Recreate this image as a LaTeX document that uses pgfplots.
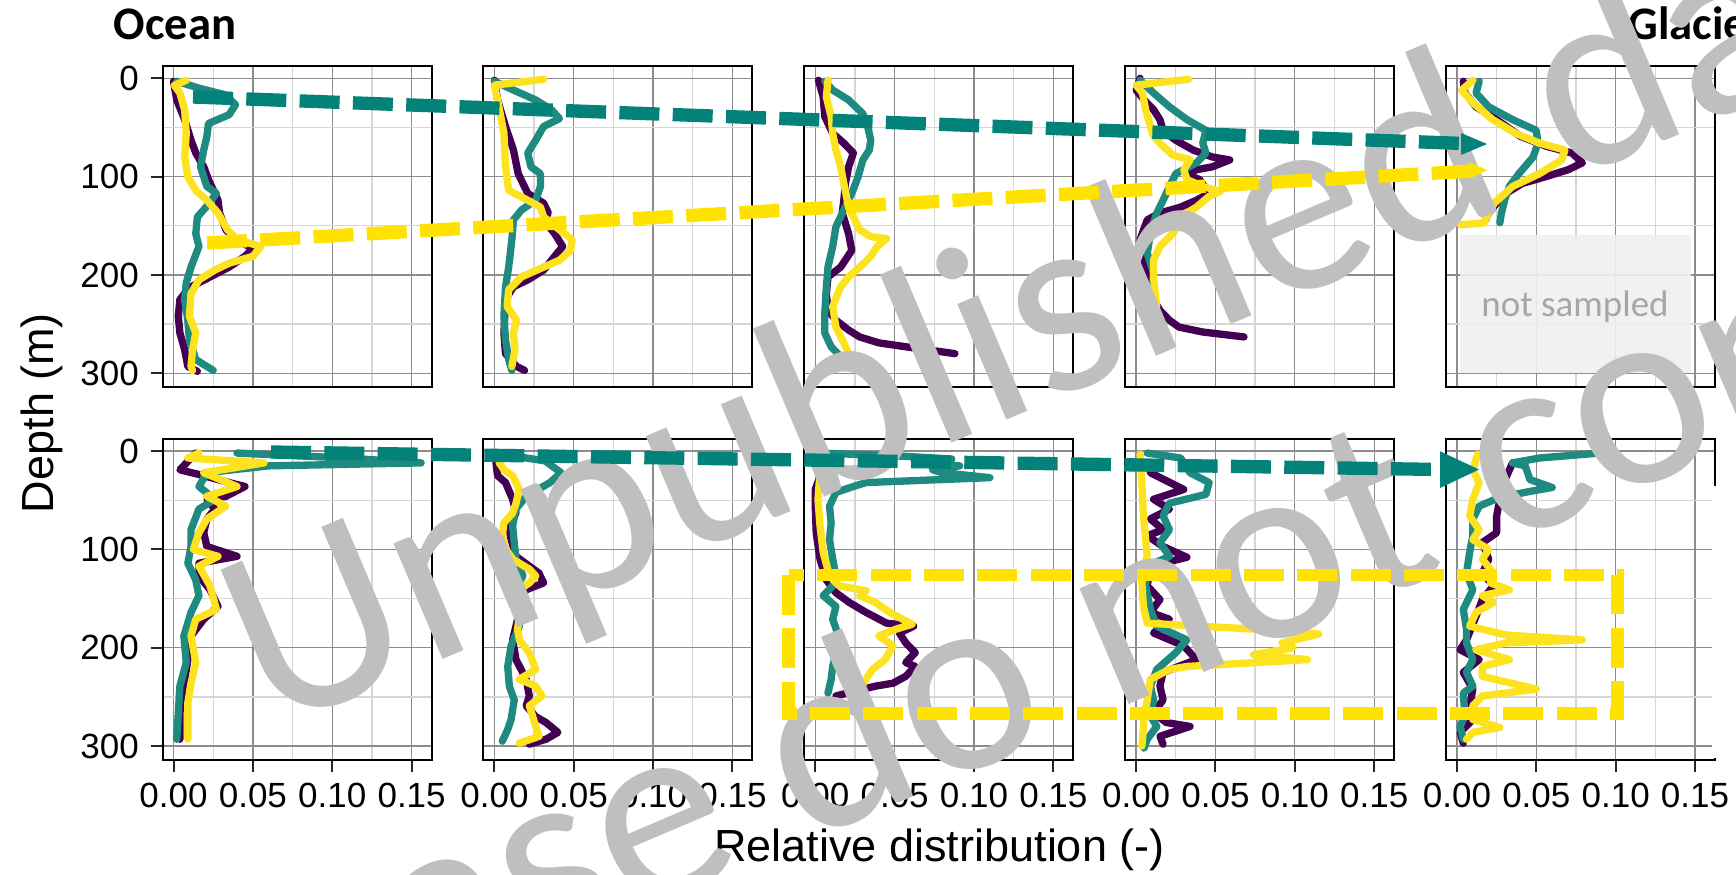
\documentclass[border=0pt]{standalone}
\usepackage{fontspec}
\setmainfont{Liberation Sans}
\newfontfamily\calibri{Carlito}
\usepackage{pgfplots}
\pgfplotsset{compat=1.18}
\definecolor{vpurple}{HTML}{440154}
\definecolor{vteal}{HTML}{1F8A80}
\definecolor{vyellow}{HTML}{FDE31F}
\definecolor{ateal}{HTML}{028278}
\definecolor{ayellow}{HTML}{FFE200}
\definecolor{wm}{HTML}{BFBFBF}
\pgfplotsset{
 panel/.style={
  scale only axis, width=80.7pt, height=96.3pt, anchor=north west,
  xmin=-0.0069, xmax=0.1626, ymin=-12.8, ymax=313.6, y dir=reverse,
  xtick={0,0.05,0.1,0.15}, ytick={0,100,200,300},
  minor xtick={0.025,0.075,0.125}, minor ytick={50,150,250},
  grid=both,
  major grid style={black!45, line width=0.4pt},
  minor grid style={black!16, line width=0.4pt},
  axis line style={black, line width=0.6pt},
  tick align=outside, major tick length=3.6pt, minor tick length=0pt,
  xticklabels={}, yticklabels={},
  xtick style={draw=none}, ytick style={draw=none},
  tick label style={font=\fontsize{10.5}{12}\selectfont, text=black},
  xtick pos=bottom, ytick pos=left,
 },
 leftcol/.style={yticklabels={0,100,200,300}, ytick style={draw=black!85, line width=0.6pt}},
 bottomrow/.style={xticklabels={0.00,0.05,0.10,0.15}, xtick style={draw=black!85, line width=0.6pt}},
 pp/.style={color=vpurple, line width=2.2pt, line join=round, line cap=round, mark=none},
 pt/.style={color=vteal, line width=2.2pt, line join=round, line cap=round, mark=none},
 py/.style={color=vyellow, line width=2.2pt, line join=round, line cap=round, mark=none},
}
\begin{document}
\begin{tikzpicture}
\useasboundingbox (0,0) rectangle (520.8pt,-262.2pt);
% ---------------- Row 1 ----------------
\begin{axis}[panel, leftcol, at={(48.78pt,-19.71pt)}]
\addplot[pp] coordinates {(0,3)(0.002,22)(0.007,42)(0.011,63)(0.014,76)(0.019,90)(0.022,103)(0.028,124)(0.029,137)(0.033,154)(0.039,164)(0.050,173)(0.045,181)(0.035,192)(0.023,202)(0.011,212)(0.007,219)(0.004,225)(0.003,242)(0.004,259)(0.007,276)(0.009,293)(0.015,298)};
\addplot[pt] coordinates {(0.002,3)(0.016,10)(0.033,17)(0.039,27)(0.035,37)(0.022,46)(0.021,59)(0.019,73)(0.017,90)(0.021,110)(0.027,117)(0.021,130)(0.015,141)(0.014,158)(0.016,171)(0.011,192)(0.008,208)(0.007,225)(0.009,246)(0.010,266)(0.014,286)(0.025,297)};
\addplot[py] coordinates {(0.008,2)(0.0005,7)(0.004,15)(0.007,32)(0.008,56)(0.007,80)(0.009,100)(0.014,114)(0.021,124)(0.028,137)(0.034,154)(0.040,164)(0.055,171)(0.050,181)(0.035,188)(0.026,195)(0.016,205)(0.011,219)(0.010,242)(0.014,259)(0.012,276)(0.011,293)(0.012,297)};
\end{axis}
\begin{axis}[panel, at={(145.035pt,-19.71pt)}]
\addplot[pp] coordinates {(0,2)(0.002,22)(0.007,49)(0.012,73)(0.015,97)(0.021,117)(0.031,127)(0.034,137)(0.031,144)(0.038,158)(0.043,171)(0.038,181)(0.031,195)(0.021,205)(0.012,212)(0.007,225)(0.006,259)(0.007,280)(0.014,293)(0.019,297)};
\addplot[pt] coordinates {(0,3)(0.012,12)(0.026,22)(0.036,32)(0.041,41)(0.031,49)(0.026,63)(0.021,76)(0.023,90)(0.029,97)(0.029,110)(0.026,124)(0.017,134)(0.012,144)(0.011,164)(0.009,192)(0.007,212)(0.006,242)(0.007,266)(0.009,286)(0.011,297)};
\addplot[py] coordinates {(0.031,1)(0,7)(0.002,22)(0.006,56)(0.007,90)(0.009,114)(0.021,124)(0.029,131)(0.031,141)(0.041,154)(0.049,164)(0.048,175)(0.041,185)(0.031,192)(0.017,202)(0.009,215)(0.008,232)(0.014,246)(0.012,259)(0.013,276)(0.011,293)};
\end{axis}
\begin{axis}[panel, at={(241.29pt,-19.71pt)}]
\addplot[pp] coordinates {(0.002,2)(0.005,19)(0.006,39)(0.011,56)(0.018,66)(0.024,76)(0.021,90)(0.019,107)(0.018,124)(0.017,137)(0.021,158)(0.023,175)(0.016,192)(0.008,202)(0.007,219)(0.008,236)(0.013,246)(0.021,256)(0.028,263)(0.040,269)(0.057,273)(0.088,280)};
\addplot[pt] coordinates {(0.006,3)(0.011,12)(0.021,22)(0.030,36)(0.033,49)(0.035,63)(0.034,73)(0.030,83)(0.027,100)(0.023,117)(0.018,134)(0.013,151)(0.011,171)(0.008,192)(0.007,212)(0.006,239)(0.006,259)(0.010,273)(0.016,283)};
\addplot[py] coordinates {(0.008,2)(0.007,19)(0.010,39)(0.011,56)(0.013,73)(0.016,90)(0.018,107)(0.021,131)(0.025,144)(0.028,154)(0.035,161)(0.045,163)(0.039,171)(0.035,181)(0.028,192)(0.021,202)(0.016,212)(0.011,232)(0.013,253)(0.018,269)(0.021,280)};
\end{axis}
\begin{axis}[panel, at={(337.545pt,-19.71pt)}]
\addplot[pp] coordinates {(0.0025,0)(0,12)(0.005,22)(0.011,32)(0.015,42)(0.017,53)(0.025,63)(0.036,73)(0.048,80)(0.059,83)(0.048,90)(0.038,93)(0.032,98)(0.040,103)(0.046,117)(0.038,124)(0.028,131)(0.015,137)(0.007,144)(0.0025,164)(0.005,185)(0.007,205)(0.011,225)(0.015,236)(0.021,246)(0.027,253)(0.042,258)(0.068,263)};
\addplot[pt] coordinates {(0.0025,2)(0.011,15)(0.021,29)(0.032,42)(0.044,53)(0.042,66)(0.044,76)(0.038,86)(0.025,97)(0.021,110)(0.017,124)(0.013,137)(0.009,158)(0.007,178)(0.011,198)(0.010,215)(0.012,232)};
\addplot[py] coordinates {(0.033,1)(0,7)(0.004,15)(0.006,32)(0.009,49)(0.011,59)(0.017,69)(0.023,78)(0.034,83)(0.030,93)(0.032,103)(0.042,110)(0.053,115)(0.046,120)(0.038,131)(0.032,137)(0.023,158)(0.015,171)(0.011,185)(0.011,202)(0.012,219)(0.013,232)};
\end{axis}
\begin{axis}[panel, at={(433.8pt,-19.71pt)}]
\addplot[pp] coordinates {(0.004,3)(0.005,15)(0.012,29)(0.025,42)(0.040,59)(0.056,69)(0.0725,76)(0.079,86)(0.070,93)(0.056,100)(0.041,107)(0.031,117)(0.025,127)(0.020,137)(0.018,144)};
\addplot[pt] coordinates {(0.014,3)(0.012,15)(0.020,29)(0.035,42)(0.050,53)(0.051,66)(0.048,80)(0.039,97)(0.033,110)(0.030,124)(0.028,137)(0.027,147)};
\addplot[py] coordinates {(0.010,2)(0.003,12)(0.010,25)(0.0225,42)(0.037,56)(0.052,66)(0.068,73)(0.066,83)(0.052,97)(0.035,110)(0.0235,127)(0.020,137)(0.017,147)(0.002,149)};
\end{axis}
% ---------------- Row 2 ----------------
\begin{axis}[panel, leftcol, bottomrow, at={(48.78pt,-131.55pt)}]
\addplot[pp] coordinates {(0.014,2)(0.004,19)(0.019,25)(0.035,32)(0.045,36)(0.033,46)(0.021,49)(0.026,59)(0.021,69)(0.019,83)(0.021,97)(0.040,107)(0.016,114)(0.016,127)(0.023,141)(0.028,158)(0.019,171)(0.011,188)(0.009,212)(0.0065,239)(0.004,266)(0.004,293)};
\addplot[pt] coordinates {(0.040,2)(0.108,7)(0.156,12)(0.060,15)(0.021,22)(0.016,36)(0.026,49)(0.016,59)(0.011,80)(0.011,97)(0.009,114)(0.014,131)(0.016,147)(0.011,164)(0.0065,188)(0.008,215)(0.004,239)(0.003,266)(0.002,293)};
\addplot[py] coordinates {(0.016,2)(0.009,7)(0.057,12)(0.019,22)(0.040,36)(0.021,46)(0.033,56)(0.021,69)(0.016,83)(0.0125,100)(0.028,107)(0.016,117)(0.023,137)(0.027,161)(0.014,171)(0.011,188)(0.014,215)(0.011,236)(0.009,256)(0.009,293)};
\end{axis}
\begin{axis}[panel, bottomrow, at={(145.035pt,-131.55pt)}]
\addplot[pp] coordinates {(0.001,5)(0.001,12)(0.002,25)(0.007,32)(0.0115,49)(0.0136,63)(0.009,76)(0.0105,90)(0.0136,107)(0.022,117)(0.028,124)(0.031,134)(0.020,141)(0.0157,151)(0.0146,171)(0.0115,192)(0.0136,212)(0.020,232)(0.022,249)(0.020,259)(0.026,270)(0.0325,276)(0.040,286)(0.0325,293)(0.022,298)};
\addplot[pt] coordinates {(0.003,3)(0.020,7)(0.032,10)(0.042,22)(0.035,32)(0.020,46)(0.0135,59)(0.0115,76)(0.0125,93)(0.0136,110)(0.018,127)(0.0125,141)(0.0136,158)(0.0157,178)(0.0105,198)(0.0084,219)(0.0094,239)(0.0125,253)(0.0105,273)(0.0084,283)(0.005,295)};
\addplot[py] coordinates {(0.003,5)(0.003,12)(0.006,19)(0.0115,25)(0.0157,39)(0.0136,53)(0.0115,63)(0.006,73)(0.005,86)(0.0073,100)(0.0115,110)(0.022,120)(0.026,127)(0.022,134)(0.0157,141)(0.0136,151)(0.0157,168)(0.0146,181)(0.0157,192)(0.022,205)(0.026,222)(0.0157,232)(0.026,239)(0.030,249)(0.022,259)(0.024,269)(0.026,280)(0.0282,290)(0.0157,297)};
\end{axis}
\begin{axis}[panel, bottomrow, at={(241.29pt,-131.55pt)}]
\addplot[pp] coordinates {(0.002,30)(0,39)(0,56)(0.0006,83)(0.003,110)(0.007,131)(0.013,144)(0.0215,154)(0.032,164)(0.045,175)(0.062,178)(0.053,185)(0.057,195)(0.063,205)(0.057,215)(0.063,219)(0.057,229)(0.049,236)(0.038,239)(0.030,242)(0.013,249)};
\addplot[pt] coordinates {(0.003,2)(0.053,5)(0.086,8)(0.063,12)(0.091,15)(0.074,19)(0.080,22)(0.110,27)(0.032,32)(0.024,36)(0.013,42)(0.009,56)(0.010,73)(0.009,90)(0.011,110)(0.013,127)(0.011,137)(0.005,147)(0.013,158)(0.011,171)(0.014,185)(0.014,198)(0.011,219)(0.010,232)(0.008,246)};
\addplot[py] coordinates {(0.005,2)(0.003,22)(0.0017,49)(0.003,76)(0.005,103)(0.009,127)(0.015,137)(0.032,142)(0.028,147)(0.038,154)(0.047,164)(0.061,176)(0.051,181)(0.040,188)(0.049,198)(0.044,212)(0.036,222)(0.032,232)(0.028,242)};
\end{axis}
\begin{axis}[panel, bottomrow, at={(337.545pt,-131.55pt)}]
\addplot[pp] coordinates {(0.008,12)(0.009,22)(0.030,39)(0.011,49)(0.021,59)(0.009,69)(0.017,80)(0.007,86)(0.017,97)(0.032,108)(0.009,117)(0.007,137)(0.015,151)(0.009,164)(0.021,171)(0.011,185)(0.030,198)(0.038,212)(0.017,225)(0.015,239)(0.017,253)(0.011,266)(0.019,276)(0.034,280)(0.015,290)(0.017,298)};
\addplot[pt] coordinates {(0.007,2)(0.028,7)(0.034,22)(0.046,32)(0.044,44)(0.021,53)(0.017,66)(0.021,80)(0.015,93)(0.021,107)(0.007,117)(0.006,137)(0.009,161)(0.013,178)(0.032,192)(0.025,205)(0.013,222)(0.009,239)(0.011,253)(0.009,269)(0.013,280)(0.007,293)(0.005,302)};
\addplot[py] coordinates {(0.0025,3)(0.0036,32)(0.0046,66)(0.007,107)(0.0046,117)(0.0036,134)(0.0046,158)(0.007,175)(0.074,181)(0.115,186)(0.092,195)(0.099,200)(0.074,207)(0.108,212)(0.032,219)(0.021,222)(0.009,232)(0.007,253)(0.005,273)(0.0036,300)};
\end{axis}
\begin{axis}[panel, bottomrow, at={(433.8pt,-131.55pt)}]
\addplot[pp] coordinates {(0.035,12)(0.030,30)(0.027,49)(0.025,66)(0.025,83)(0.016,93)(0.020,110)(0.016,124)(0.023,137)(0.016,151)(0.012,168)(0.006,192)(0.002,202)(0.014,212)(0.004,225)(0.010,242)(0.008,259)(0.010,273)(0.002,286)(0.004,297)};
\addplot[pt] coordinates {(0.090,2)(0.052,7)(0.035,12)(0.043,15)(0.046,29)(0.060,37)(0.046,41)(0.027,47)(0.014,56)(0.010,69)(0.010,86)(0.008,103)(0.006,124)(0.010,141)(0.004,161)(0.006,181)(0.006,195)(0.010,212)(0.006,225)(0.010,239)(0.004,246)(0.005,269)(0.002,280)(0.004,293)};
\addplot[py] coordinates {(0.013,3)(0.010,19)(0.014,32)(0.010,49)(0.008,66)(0.014,80)(0.010,90)(0.020,100)(0.016,110)(0.023,124)(0.021,134)(0.033,141)(0.016,147)(0.023,154)(0.012,164)(0.008,178)(0.031,187)(0.079,192)(0.031,195)(0.012,202)(0.033,212)(0.016,219)(0.016,229)(0.050,242)(0.016,249)(0.010,259)(0.010,273)(0.027,281)(0.010,286)(0.006,293)};
\end{axis}
% ---------------- decorations (pixel frame) ----------------
\begin{scope}[x=0.3pt,y=-0.3pt]
 \fill[white] (1711.5,486) rectangle (1720,758);
 \fill[black!6, opacity=0.9] (1460,235) rectangle (1690.7,373.3);
 \node[text=black!35, font=\calibri\fontsize{11.1}{12}\selectfont] at (1575,306.7) {not sampled};
 \node[anchor=base west, inner sep=0, font=\calibri\bfseries\fontsize{14}{16}\selectfont] at (112.9,40) {Ocean};
 \node[anchor=base west, inner sep=0, font=\calibri\bfseries\fontsize{14}{16}\selectfont] at (1628,40) {Glacier};
 \node[rotate=90, font=\fontsize{13.5}{15}\selectfont] at (42,413) {Depth (m)};
 \node[anchor=base, inner sep=0, font=\fontsize{13.5}{15}\selectfont] at (939.5,861) {Relative distribution (-)};
 % watermark
 \node[anchor=base west, inner sep=0, rotate=23, text=wm, font=\calibri\fontsize{78.9}{80}\selectfont] at (270,733) {Unpublished data,};
 \node[anchor=base west, inner sep=0, rotate=23, text=wm, font=\calibri\fontsize{78.9}{80}\selectfont] at (113.8,1136) {please do not copy};
 % arrows
 \draw[ateal, line width=4pt, dash pattern=on 12pt off 4pt] (193,97) -- (1464,143.5);
 \fill[ateal] (1461,133) -- (1487,144) -- (1461,155) -- cycle;
 \draw[ayellow, line width=4pt, dash pattern=on 12pt off 4pt] (207,243) -- (1472,171);
 \fill[ayellow] (1469,162) -- (1487,170) -- (1469,179) -- cycle;
 \draw[ateal, line width=4pt, dash pattern=on 12pt off 4pt] (271,452) -- (1442,469.5);
 \fill[ateal] (1440,451.3) -- (1479,469.5) -- (1440,488) -- cycle;
 \draw[ayellow, line width=3.8pt, dash pattern=on 12pt off 4pt] (788.6,575) rectangle (1617.7,713.5);
\end{scope}
\end{tikzpicture}
\end{document}
